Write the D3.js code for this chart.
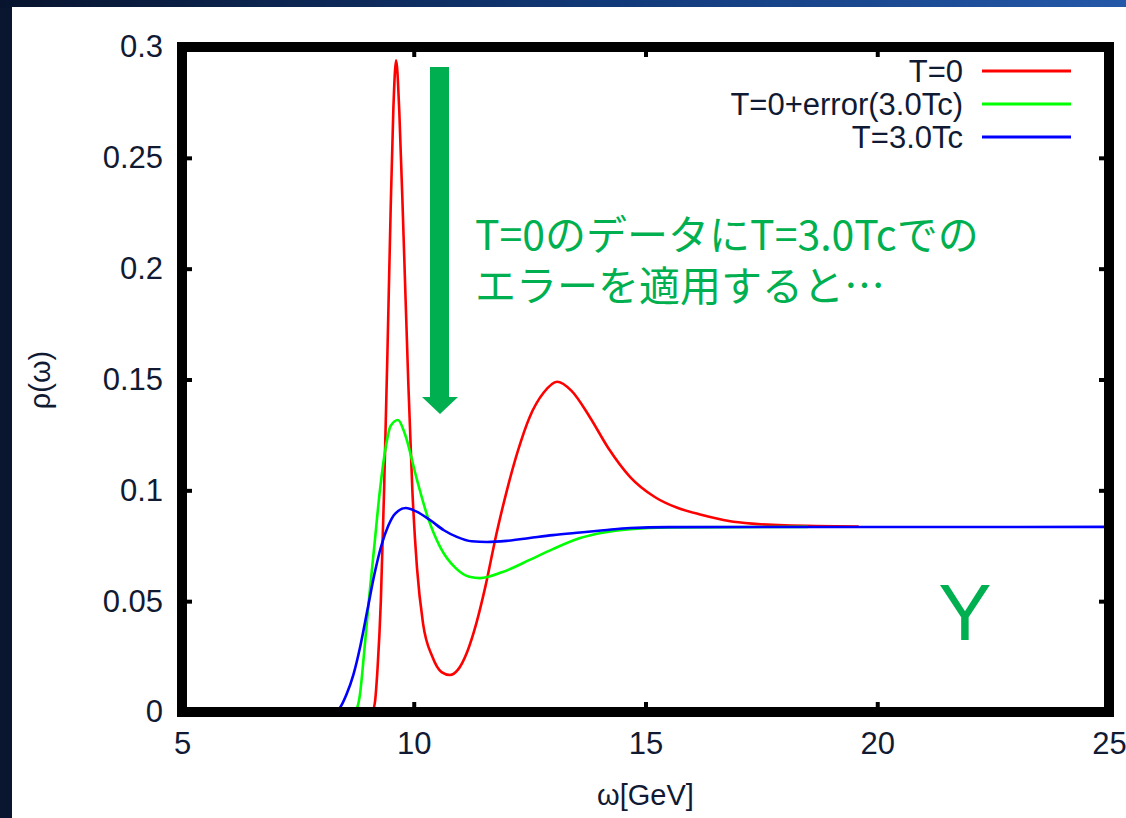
<!DOCTYPE html>
<html>
<head>
<meta charset="utf-8">
<script src="https://cdn.jsdelivr.net/npm/d3@7"></script>
<style>
  html, body { margin: 0; padding: 0; background: #0a1630; }
  svg { display: block; }
</style>
</head>
<body>
<svg width="1126" height="818"></svg>
<script>
// [omega, rho]
let redT0 = [[5,0],[9.1,0],[9.16,0.004],[9.22,0.02],[9.29,0.05],[9.36,0.1],[9.43,0.16],[9.5,0.225],
    [9.56,0.272],[9.62,0.294],[9.69,0.27],[9.78,0.215],[9.88,0.15],[9.97,0.1],[10.07,0.065],[10.2,0.04],
    [10.4,0.025],[10.6,0.018],[10.78,0.0167],[10.95,0.019],[11.15,0.027],[11.35,0.04],[11.55,0.057],
    [11.78,0.08],[12.01,0.1],[12.25,0.118],[12.5,0.133],[12.8,0.144],[13.09,0.149],[13.4,0.145],
    [13.8,0.133],[14.2,0.119],[14.67,0.106],[15.2,0.097],[15.7,0.092],[16.2,0.089],[16.8,0.0862],
    [17.3,0.085],[18,0.0842],[19.6,0.0837]];

let greenErr = [[5,0],[8.7,0],[8.78,0.002],[8.84,0.008],[8.9,0.02],[9.03,0.05],[9.15,0.075],[9.27,0.1],
    [9.4,0.12],[9.5,0.129],[9.66,0.1317],[9.8,0.126],[10.07,0.1047],[10.3,0.088],[10.57,0.0744],
    [10.9,0.065],[11.2,0.061],[11.43,0.0604],[11.9,0.063],[12.5,0.0686],[13.0,0.0735],[13.59,0.0785],
    [14.1,0.081],[14.67,0.0825],[15.5,0.0833],[18.5,0.0835]];

let blueT3 = [[5,0],[8.3,0],[8.41,0.002],[8.55,0.008],[8.7,0.017],[8.85,0.03],[9.0,0.046],[9.15,0.062],
    [9.3,0.075],[9.45,0.084],[9.6,0.0895],[9.83,0.092],[10.05,0.0905],[10.35,0.0866],[10.65,0.082],
    [10.93,0.079],[11.25,0.077],[11.58,0.0767],[12.0,0.0772],[12.5,0.0785],[13.0,0.0798],[13.59,0.081],
    [14.1,0.082],[14.67,0.083],[15.5,0.0834],[25,0.0835]];

let seriesNames = ['T=0', 'T=0+error(3.0Tc)', 'T=3.0Tc'];
let seriesColors = ['#ff0000', '#00ff00', '#0000ff'];
let xTicks = [5, 10, 15, 20, 25];
let yTicks = [0, 0.05, 0.1, 0.15, 0.2, 0.25, 0.3];
let noteLines = ['T=0のデータにT=3.0Tcでの', 'エラーを適用すると…'];

let svg = d3.select('svg');
let width = +svg.attr('width');
let height = +svg.attr('height');

// slide background
let defs = svg.append('defs');
let grad = defs.append('linearGradient').attr('id', 'topband');
grad.append('stop').attr('offset', '0%').attr('stop-color', '#08142e');
grad.append('stop').attr('offset', '55%').attr('stop-color', '#123a7a');
grad.append('stop').attr('offset', '100%').attr('stop-color', '#2458a8');
svg.append('rect').attr('width', width).attr('height', height).attr('fill', '#0a1630');
svg.append('rect').attr('width', width).attr('height', 8).attr('fill', 'url(#topband)');
svg.append('rect').attr('x', 12).attr('y', 7).attr('width', width - 12).attr('height', height - 7)
    .attr('fill', '#fff');

let x = d3.scaleLinear().domain([5, 25]).range([182, 1109]);
let y = d3.scaleLinear().domain([0, 0.3]).range([712, 47]);

let line = d3.line()
    .x(d => x(d[0]))
    .y(d => y(d[1]))
    .curve(d3.curveMonotoneX);

svg.append('g').selectAll('path')
    .data([redT0, greenErr, blueT3])
    .enter().append('path')
    .attr('d', line)
    .attr('fill', 'none')
    .attr('stroke', (_, i) => seriesColors[i])
    .attr('stroke-width', 2.6);

// inward ticks on all four sides
let tickFont = 'Liberation Sans, Arial, sans-serif';
function styleAxis(g, labels) {
    g.select('.domain').remove();
    g.selectAll('.tick line').attr('stroke', '#000').attr('stroke-width', 4);
    if (!labels) {
        g.selectAll('.tick text').remove();
        return;
    }
    g.selectAll('.tick text')
        .attr('fill', '#111a33')
        .style('font-family', tickFont)
        .style('font-size', '31px');
}

svg.append('g').attr('transform', `translate(0,${y(0)})`)
    .call(d3.axisBottom(x).tickValues(xTicks).tickSize(-10).tickPadding(20).tickFormat(d3.format('d')))
    .call(g => styleAxis(g, true));
svg.append('g').attr('transform', `translate(0,${y(0.3)})`)
    .call(d3.axisTop(x).tickValues(xTicks).tickSize(-10))
    .call(g => styleAxis(g, false));
svg.append('g').attr('transform', `translate(${x(5)},0)`)
    .call(d3.axisLeft(y).tickValues(yTicks).tickSize(-10).tickPadding(19).tickFormat(d => d === 0 ? '0' : String(d)))
    .call(g => styleAxis(g, true));
svg.append('g').attr('transform', `translate(${x(25)},0)`)
    .call(d3.axisRight(y).tickValues(yTicks).tickSize(-10))
    .call(g => styleAxis(g, false));

// heavy frame
svg.append('rect')
    .attr('x', x(5)).attr('y', y(0.3))
    .attr('width', x(25) - x(5)).attr('height', y(0) - y(0.3))
    .attr('fill', 'none').attr('stroke', '#000').attr('stroke-width', 10);

// axis titles
svg.append('text')
    .attr('x', (x(5) + x(25)) / 2).attr('y', 805)
    .attr('text-anchor', 'middle')
    .attr('fill', '#111a33')
    .style('font-family', tickFont).style('font-size', '29px')
    .text('ω[GeV]');
svg.append('text')
    .attr('transform', 'translate(50,380) rotate(-90)')
    .attr('text-anchor', 'middle')
    .attr('fill', '#111a33')
    .style('font-family', tickFont).style('font-size', '29px')
    .text('ρ(ω)');

// legend
let legend = svg.append('g').selectAll('g')
    .data(seriesNames)
    .enter().append('g')
    .attr('transform', (_, i) => `translate(0,${71 + i * 33})`);
legend.append('text')
    .attr('x', 963).attr('dy', '0.35em')
    .attr('text-anchor', 'end')
    .attr('fill', '#111a33')
    .style('font-family', tickFont).style('font-size', '31px')
    .text(d => d);
legend.append('line')
    .attr('x1', 982).attr('x2', 1071)
    .attr('stroke', (_, i) => seriesColors[i])
    .attr('stroke-width', 3);

// green annotation arrow
let noteColor = '#00b050';
svg.append('path')
    .attr('d', d3.line()([[430, 67], [449, 67], [449, 397], [458, 397], [440, 414], [422, 397], [430, 397]]) + 'Z')
    .attr('fill', noteColor);

svg.append('text')
    .attr('fill', noteColor)
    .style('font-family', '"Noto Sans CJK JP", sans-serif')
    .style('font-size', '41px')
    .selectAll('tspan')
    .data(noteLines)
    .enter().append('tspan')
    .attr('x', 475)
    .attr('y', (_, i) => 250 + i * 51)
    .text(d => d);

svg.append('text')
    .attr('x', 965).attr('y', 640)
    .attr('text-anchor', 'middle')
    .attr('fill', noteColor)
    .style('font-family', tickFont)
    .style('font-size', '80px')
    .text('Y');
</script>
</body>
</html>
